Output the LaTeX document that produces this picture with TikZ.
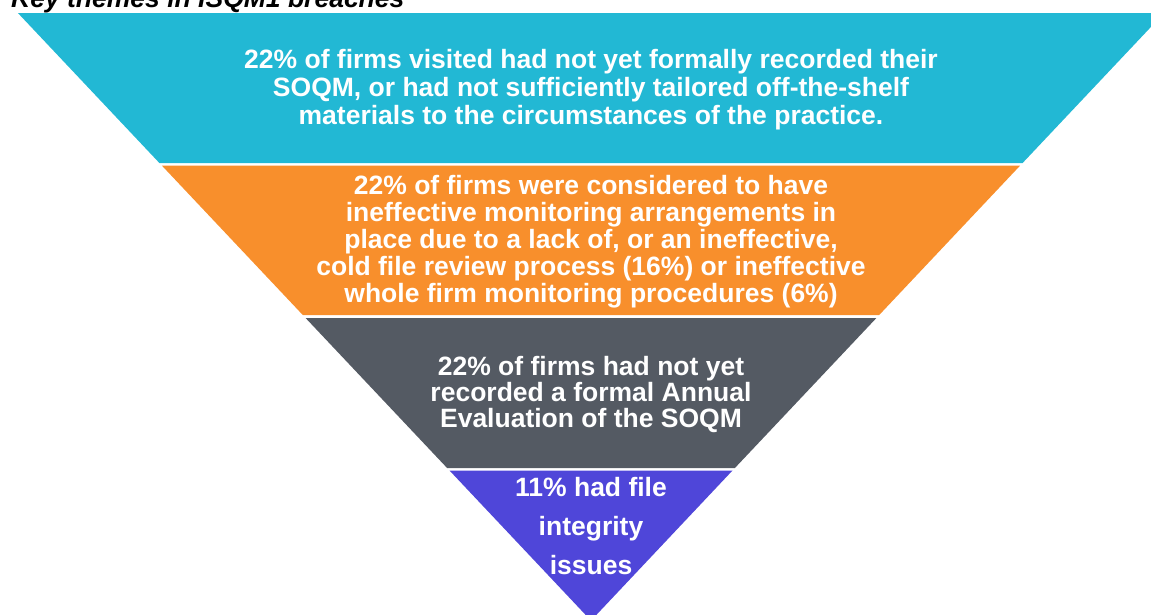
\documentclass[tikz,border=0pt]{standalone}
\usepackage{fontspec}
\setmainfont{Liberation Sans}
\definecolor{bandcyan}{RGB}{34,184,212}
\definecolor{bandorange}{RGB}{248,143,44}
\definecolor{bandgrey}{RGB}{84,90,99}
\definecolor{bandpurple}{RGB}{79,70,217}
\begin{document}
\begin{tikzpicture}[x=1pt,y=-1pt,
  bandlabel/.style={text=white, align=center, inner sep=0pt},
  titletext/.style={text=black, inner sep=0pt, font=\fontsize{26.5}{28}\selectfont\bfseries\itshape}]
\useasboundingbox (0,0) rectangle (1151,614);
\clip (0,0) rectangle (1151,614);

% funnel bands, apex at (591,620.6)
\fill[bandcyan]   (17.9,13) -- (1164.1,13) -- (1022.6,163) -- (159.4,163) -- cycle;
\fill[bandorange] (161.8,165.5) -- (1020.2,165.5) -- (879.2,315) -- (302.8,315) -- cycle;
\fill[bandgrey]   (305.6,318) -- (876.4,318) -- (734.9,468) -- (447.1,468) -- cycle;
\fill[bandpurple] (449.5,470.5) -- (732.5,470.5) -- (591,620.6) -- cycle;

\node[titletext, anchor=base west] (title) at (11,7) {Key themes in ISQM1 breaches};

\node[bandlabel, font=\fontsize{26.5}{28}\selectfont\bfseries] (t1) at (591,90)
  {22\% of firms visited had not yet formally recorded their\\
   SOQM, or had not sufficiently tailored off-the-shelf\\
   materials to the circumstances of the practice.};

\node[bandlabel, font=\fontsize{26.5}{27}\selectfont\bfseries] (t2) at (591,242)
  {22\% of firms were considered to have\\
   ineffective monitoring arrangements in\\
   place due to a lack of, or an ineffective,\\
   cold file review process (16\%) or ineffective\\
   whole firm monitoring procedures (6\%)};

\node[bandlabel, font=\fontsize{26.5}{26}\selectfont\bfseries] (t3) at (591,394)
  {22\% of firms had not yet\\
   recorded a formal Annual\\
   Evaluation of the SOQM};

\node[bandlabel, font=\fontsize{26.5}{39}\selectfont\bfseries] (t4) at (591,526.5)
  {11\% had file\\
   integrity\\
   issues};
\end{tikzpicture}
\end{document}
